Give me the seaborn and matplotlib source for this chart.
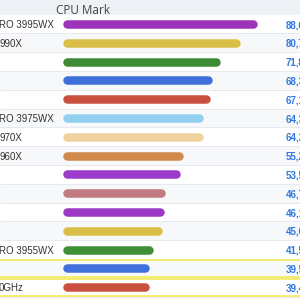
import matplotlib
matplotlib.use("Agg")
import matplotlib.pyplot as plt
import seaborn as sns
import pandas as pd
from matplotlib.patches import Rectangle

labels = ["RO 3995WX", "990X", "", "", "", "RO 3975WX", "970X", "960X",
          "", "", "", "", "RO 3955WX", "", "0GHz"]
values = [88625, 80776, 71830, 68334, 67146, 64329, 64235, 55236,
          53550, 46751, 46144, 45631, 41570, 39550, 39448]
colors = ["#9c33b8", "#d9bf48", "#3d8c35", "#3f6fd8", "#c9503f", "#92cff0",
          "#f0d29e", "#d0894a", "#9b3acb", "#c27a83", "#9b38c4", "#d9bf48",
          "#3f8f35", "#4070dc", "#c9503f"]
highlighted = [13, 14]
header = "CPU Mark"

df = pd.DataFrame({"rank": [str(i) for i in range(len(values))],
                   "value": values})

sns.set_theme(style="white")
fig = plt.figure(figsize=(3, 3), dpi=100)
ax = fig.add_axes([0, 0, 1, 1])

sns.barplot(data=df, x="value", y="rank", hue="rank", palette=colors,
            saturation=1, orient="h", width=0.45, legend=False, ax=ax,
            zorder=3)
bars = list(ax.patches)

# pixel mapping
px0, slope = 62.5, 0.002195
L = -px0 / slope
R = (300 - px0) / slope
row_h = 18.8
top = -24 / row_h
bot = (300 - 24) / row_h
ax.set_xlim(L, R)
ax.set_ylim(bot, top)
ax.axis("off")

# rounded bars
bar_pts = 8.5 * 0.72
r = 4.25 / slope
for p in bars:
    x0 = p.get_x()
    x1 = x0 + p.get_width()
    yc = p.get_y() + p.get_height() / 2
    ax.plot([x0 + r, x1 - r], [yc, yc], color=p.get_facecolor(),
            lw=bar_pts, solid_capstyle="round", zorder=4)
    p.set_visible(False)

# row backgrounds
ax.axhspan(top, -0.5, color="#eef1f5", zorder=0, lw=0)
for i in range(len(values)):
    ax.axhspan(i - 0.5, i + 0.5, color="#ffffff" if i % 2 == 0 else "#f7f8fa",
               zorder=0, lw=0)
    ax.axhline(i + 0.5, color="#e6e9ee", lw=0.7, zorder=1)

# highlighted rows
for i in highlighted:
    ax.add_patch(Rectangle((L - 5000, i - 0.45), (R - L) + 10000, 0.9,
                           fill=False, edgecolor="#f3ea4a", lw=1.1, zorder=2))

tr = ax.get_yaxis_transform()
for i, (lab, v) in enumerate(zip(labels, values)):
    ax.text(-0.003, i, lab, transform=tr, ha="left", va="center_baseline",
            fontsize=7, color="#333333", family="Liberation Sans", zorder=5)
    ax.text(0.952, i, f"{v:,}", transform=tr, ha="left", va="center_baseline",
            fontsize=7, color="#2f78e2", fontweight="bold",
            family="Liberation Sans", zorder=5)

ax.text(83 / 300, -0.8, header, transform=tr, ha="center",
        va="center_baseline", fontsize=8.5, color="#444444",
        family="Open Sans", zorder=5)

fig.savefig("out.png", dpi=100)
